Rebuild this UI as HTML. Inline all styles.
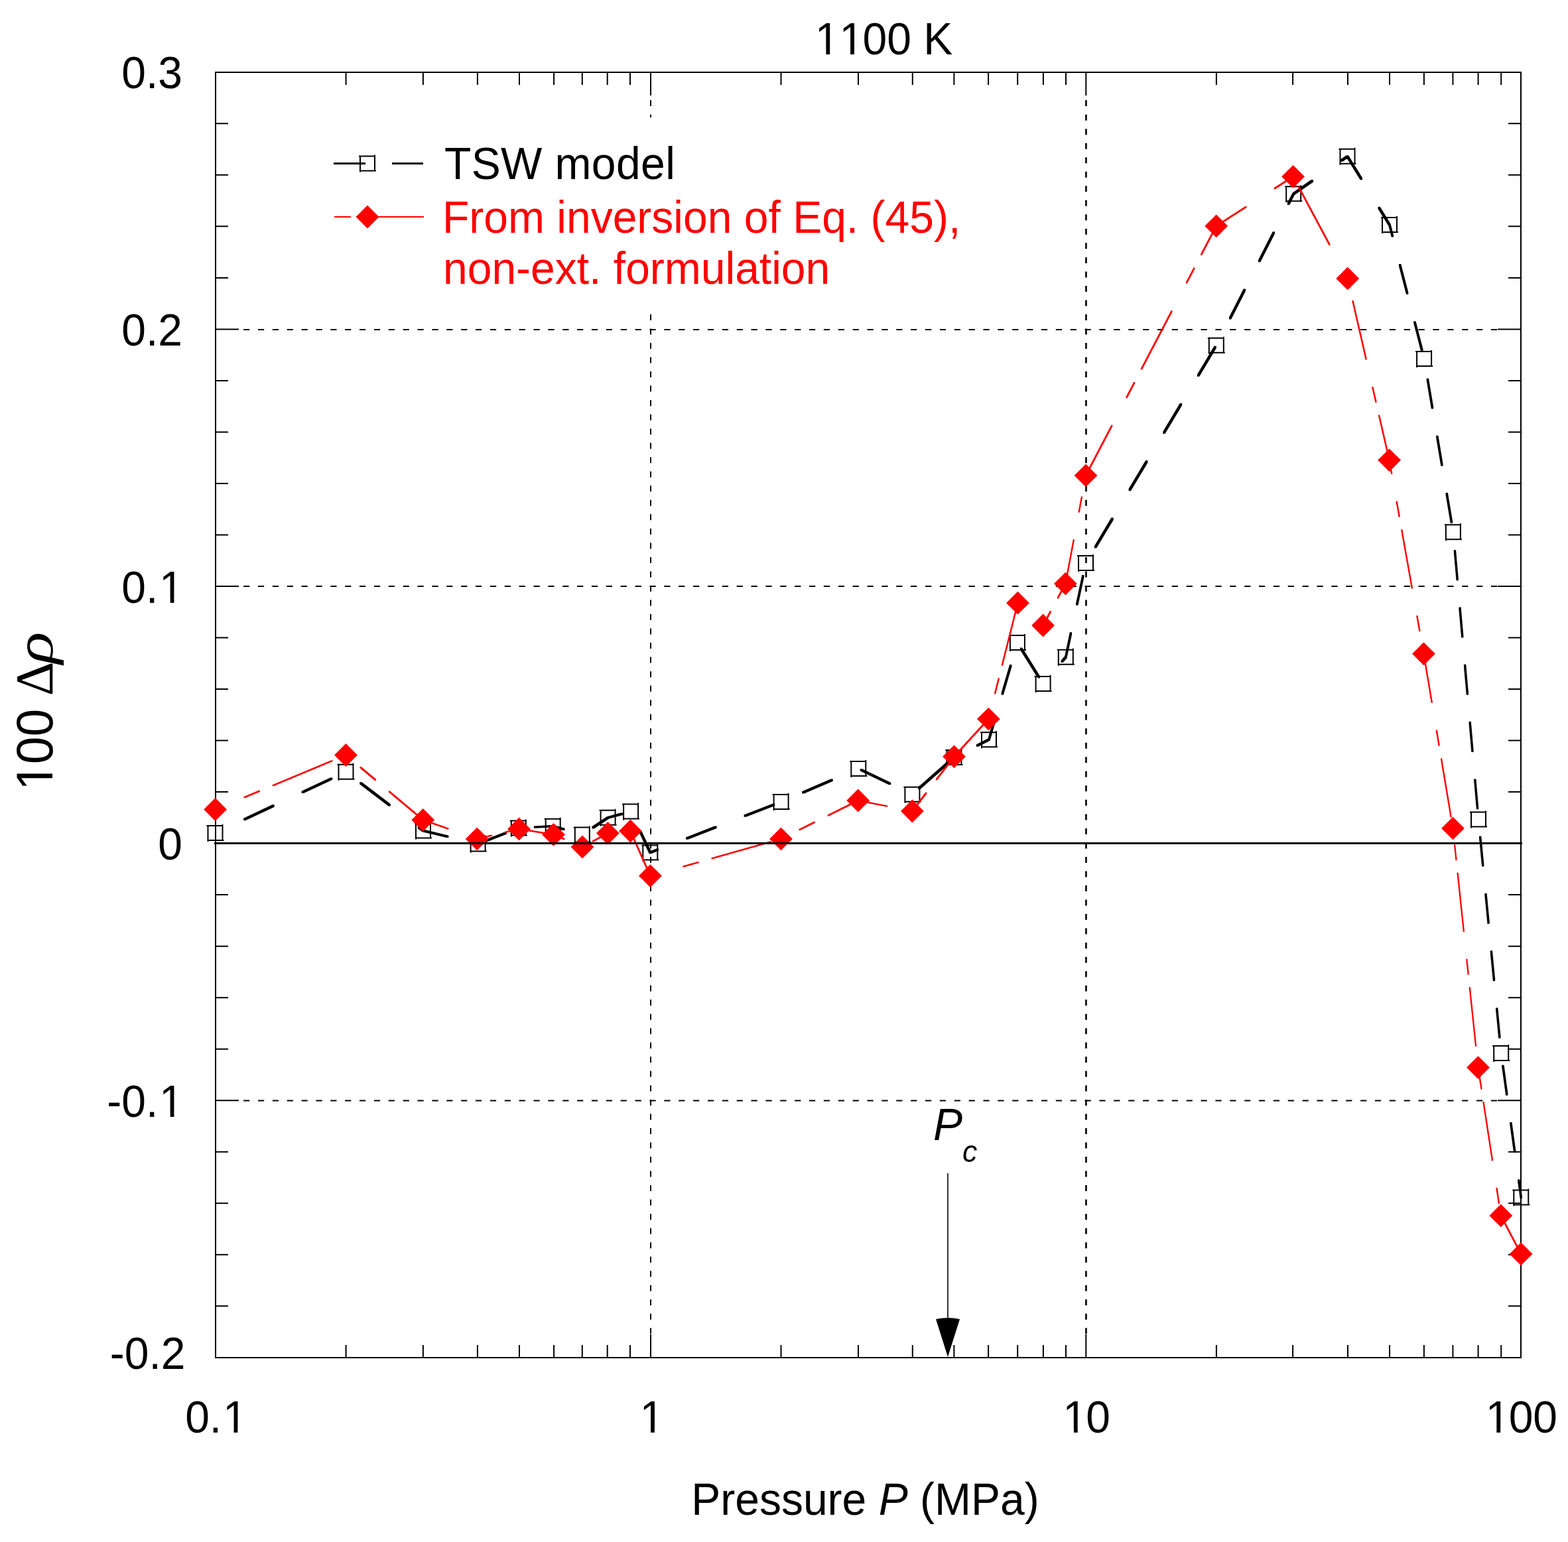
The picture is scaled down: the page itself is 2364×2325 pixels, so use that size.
<!DOCTYPE html>
<html><head><meta charset="utf-8"><title>1100 K</title>
<style>html,body{margin:0;padding:0;background:#fff;}svg{display:block;}text{font-family:"Liberation Sans",Arial,sans-serif;font-kerning:none;}</style>
</head><body>
<svg xmlns="http://www.w3.org/2000/svg" width="2364" height="2325" viewBox="0 0 2364 2325">
<rect width="2364" height="2325" fill="#fff"/>
<path d="M367.1 497H2258 M367.1 884H2258 M367.1 1659.5H2258" stroke="#000" stroke-width="2" stroke-dasharray="9.2 12.67" fill="none"/>
<path d="M981 151.1V2012" stroke="#000" stroke-width="2" stroke-dasharray="9 12.526" fill="none"/>
<path d="M1637.45 151.1V2012" stroke="#000" stroke-width="2.6" stroke-dasharray="9 12.526" fill="none"/>
<path d="M521.6 2047V2028 M521.6 109V128 M637.9 2047V2028 M637.9 109V128 M719.9 2047V2028 M719.9 109V128 M783 2047V2028 M783 109V128 M835.1 2047V2028 M835.1 109V128 M877.8 2047V2028 M877.8 109V128 M915.7 2047V2028 M915.7 109V128 M950 2047V2028 M950 109V128 M1177.5 2047V2028 M1177.5 109V128 M1294 2047V2028 M1294 109V128 M1375.8 2047V2028 M1375.8 109V128 M1438.4 2047V2028 M1438.4 109V128 M1490.1 2047V2028 M1490.1 109V128 M1534.2 2047V2028 M1534.2 109V128 M1572.9 2047V2028 M1572.9 109V128 M1607 2047V2028 M1607 109V128 M1833.9 2047V2028 M1833.9 109V128 M1949.1 2047V2028 M1949.1 109V128 M2032 2047V2028 M2032 109V128 M2095 2047V2028 M2095 109V128 M2146.9 2047V2028 M2146.9 109V128 M2190.4 2047V2028 M2190.4 109V128 M2228.6 2047V2028 M2228.6 109V128 M2263.2 2047V2028 M2263.2 109V128 M981 2047V2012 M981 109V144 M1637.3 2047V2012 M1637.3 109V144 M325 1969.28H344 M2293 1969.28H2274 M325 1891.76H344 M2293 1891.76H2274 M325 1814.24H344 M2293 1814.24H2274 M325 1736.72H344 M2293 1736.72H2274 M325 1659.2H360 M2293 1659.2H2258 M325 1581.68H344 M2293 1581.68H2274 M325 1504.16H344 M2293 1504.16H2274 M325 1426.64H344 M2293 1426.64H2274 M325 1349.12H344 M2293 1349.12H2274 M325 1271.5H360 M2293 1271.5H2258 M325 1194.08H344 M2293 1194.08H2274 M325 1116.56H344 M2293 1116.56H2274 M325 1039.04H344 M2293 1039.04H2274 M325 961.52H344 M2293 961.52H2274 M325 884H360 M2293 884H2258 M325 806.48H344 M2293 806.48H2274 M325 728.96H344 M2293 728.96H2274 M325 651.44H344 M2293 651.44H2274 M325 573.92H344 M2293 573.92H2274 M325 496.4H360 M2293 496.4H2258 M325 418.88H344 M2293 418.88H2274 M325 341.36H344 M2293 341.36H2274 M325 263.84H344 M2293 263.84H2274 M325 186.32H344 M2293 186.32H2274" stroke="#000" stroke-width="2" fill="none"/>
<rect x="325" y="109" width="1968" height="1938" stroke="#000" stroke-width="2" fill="none"/>
<rect x="495" y="177" width="960" height="290" fill="#fff"/>
<path d="M367.13 1233.63L410.41 1213.37L413.71 1213.37L413.71 1216.67L370.43 1236.93L367.13 1236.93ZM454.69 1192.65L497.97 1172.39L501.27 1172.39L501.27 1175.69L457.99 1195.95L454.69 1195.95ZM542.25 1179.21L545.55 1179.21L588.84 1212.16L588.84 1215.46L585.54 1215.46L542.25 1182.51ZM629.82 1245.87L633.12 1245.87L639.65 1250.85L639.65 1254.15L636.35 1254.15L629.82 1249.17ZM636.35 1250.85L639.65 1250.85L676.4 1259.7L676.4 1263L673.1 1263L636.35 1254.15ZM717.38 1270.37L720.68 1270.37L722.25 1270.75L722.25 1274.05L718.95 1274.05L717.38 1273.67ZM718.95 1270.75L760.66 1254.53L763.96 1254.53L763.96 1257.83L722.25 1274.05L718.95 1274.05ZM804.94 1245.56L832.05 1244.05L835.35 1244.05L835.35 1247.35L808.24 1248.86L804.94 1248.86ZM832.05 1244.05L835.35 1244.05L851.52 1248.78L851.52 1252.08L848.22 1252.08L832.05 1247.35ZM892.5 1246.08L914.95 1231.15L918.25 1231.15L918.25 1234.45L895.8 1249.38L892.5 1249.38ZM914.95 1231.15L935.79 1225.59L939.09 1225.59L939.09 1228.89L918.25 1234.45L914.95 1234.45ZM963.68 1252.11L966.98 1252.11L981.95 1283.85L981.95 1287.15L978.65 1287.15L963.68 1255.41ZM978.65 1283.85L989.72 1279.56L993.02 1279.56L993.02 1282.86L981.95 1287.15L978.65 1287.15ZM1034 1262.39L1077.29 1245.61L1080.59 1245.61L1080.59 1248.91L1037.3 1265.69L1034 1265.69ZM1121.56 1228.44L1164.85 1211.65L1168.15 1211.65L1168.15 1214.95L1124.86 1231.74L1121.56 1231.74ZM1209.13 1193.14L1252.41 1174.59L1255.71 1174.59L1255.71 1177.89L1212.43 1196.44L1209.13 1196.44ZM1296.69 1159.28L1299.99 1159.28L1343.27 1179.93L1343.27 1183.23L1339.97 1183.23L1296.69 1162.58ZM1384.25 1186.77L1427.53 1148.5L1430.83 1148.5L1430.83 1151.8L1387.55 1190.07L1384.25 1190.07ZM1471.81 1122.49L1489.35 1113.55L1492.65 1113.55L1492.65 1116.85L1475.11 1125.79L1471.81 1125.79ZM1489.35 1113.55L1496.8 1088.18L1500.1 1088.18L1500.1 1091.48L1492.65 1116.85L1489.35 1116.85ZM1509.61 1044.55L1522.13 1001.91L1525.43 1001.91L1525.43 1005.21L1512.91 1047.85L1509.61 1047.85ZM1537.98 976.62L1541.28 976.62L1567.95 1019.27L1567.95 1022.57L1564.65 1022.57L1537.98 979.92ZM1599.49 995.81L1605.15 989.15L1608.45 989.15L1608.45 992.45L1602.79 999.11L1599.49 999.11ZM1605.15 989.15L1612.82 953.16L1616.12 953.16L1616.12 956.46L1608.45 992.45L1605.15 992.45ZM1622.12 909.53L1631.21 866.88L1634.51 866.88L1634.51 870.18L1625.42 912.83L1622.12 912.83ZM1649.85 823.26L1675.41 780.61L1678.71 780.61L1678.71 783.91L1653.15 826.56L1649.85 826.56ZM1701.55 736.98L1727.11 694.33L1730.41 694.33L1730.41 697.63L1704.85 740.28L1701.55 740.28ZM1753.25 650.71L1778.81 608.06L1782.11 608.06L1782.11 611.36L1756.55 654.01L1753.25 654.01ZM1804.95 564.43L1830.51 521.79L1833.81 521.79L1833.81 525.09L1808.25 567.73L1804.95 567.73ZM1852.99 478.16L1874.72 435.51L1878.02 435.51L1878.02 438.81L1856.29 481.46L1852.99 481.46ZM1896.96 391.88L1918.69 349.24L1921.99 349.24L1921.99 352.54L1900.26 395.18L1896.96 395.18ZM1940.93 305.61L1948.55 290.65L1951.85 290.65L1951.85 293.95L1944.23 308.91L1940.93 308.91ZM1948.55 290.65L1976.65 271.12L1979.95 271.12L1979.95 274.42L1951.85 293.95L1948.55 293.95ZM2020.93 240.35L2029.85 234.15L2033.15 234.15L2033.15 237.45L2024.23 243.65L2020.93 243.65ZM2029.85 234.15L2033.15 234.15L2053.96 268.01L2053.96 271.31L2050.66 271.31L2029.85 237.45ZM2077.48 311.64L2080.78 311.64L2096.65 337.45L2096.65 340.75L2093.35 340.75L2077.48 314.94ZM2093.35 337.45L2096.65 337.45L2101 354.28L2101 357.58L2097.7 357.58L2093.35 340.75ZM2108.96 397.91L2112.26 397.91L2123.27 440.56L2123.27 443.86L2119.97 443.86L2108.96 401.21ZM2131.23 484.18L2134.53 484.18L2145.54 526.83L2145.54 530.13L2142.24 530.13L2131.23 487.48ZM2150.68 570.46L2153.98 570.46L2161.13 613.11L2161.13 616.41L2157.83 616.41L2150.68 573.76ZM2165.14 656.73L2168.44 656.73L2175.58 699.38L2175.58 702.68L2172.28 702.68L2165.14 660.03ZM2179.59 743.01L2182.89 743.01L2190.04 785.65L2190.04 788.95L2186.74 788.95L2179.59 746.31ZM2191.77 829.28L2195.07 829.28L2198.82 871.93L2198.82 875.23L2195.52 875.23L2191.77 832.58ZM2199.36 915.56L2202.66 915.56L2206.41 958.2L2206.41 961.5L2203.11 961.5L2199.36 918.86ZM2206.95 1001.83L2210.25 1001.83L2214 1044.48L2214 1047.78L2210.7 1047.78L2206.95 1005.13ZM2214.54 1088.11L2217.84 1088.11L2221.59 1130.75L2221.59 1134.05L2218.29 1134.05L2214.54 1091.41ZM2222.13 1174.38L2225.43 1174.38L2229.18 1217.03L2229.18 1220.33L2225.88 1220.33L2222.13 1177.68ZM2229.96 1260.65L2233.26 1260.65L2237.4 1303.3L2237.4 1306.6L2234.1 1306.6L2229.96 1263.95ZM2238.33 1346.93L2241.63 1346.93L2245.76 1389.58L2245.76 1392.88L2242.46 1392.88L2238.33 1350.23ZM2246.7 1433.2L2250 1433.2L2254.13 1475.85L2254.13 1479.15L2250.83 1479.15L2246.7 1436.5ZM2255.06 1519.48L2258.36 1519.48L2262.5 1562.13L2262.5 1565.43L2259.2 1565.43L2255.06 1522.78ZM2264.23 1605.75L2267.53 1605.75L2273.43 1648.4L2273.43 1651.7L2270.13 1651.7L2264.23 1609.05ZM2276.17 1692.03L2279.47 1692.03L2285.37 1734.67L2285.37 1737.97L2282.07 1737.97L2276.17 1695.33ZM2288.1 1778.3L2291.4 1778.3L2294.95 1803.95L2294.95 1807.25L2291.65 1807.25L2288.1 1781.6Z" fill="#000"/>
<path d="M311.5 1245H335.5 M335.5 1243V1267 M313.5 1267H337.5 M313.5 1245V1269 M508.5 1152.8H532.5 M532.5 1150.8V1174.8 M510.5 1174.8H534.5 M510.5 1152.8V1176.8 M625 1241.5H649 M649 1239.5V1263.5 M627 1263.5H651 M627 1241.5V1265.5 M707.6 1261.4H731.6 M731.6 1259.4V1283.4 M709.6 1283.4H733.6 M709.6 1261.4V1285.4 M768.8 1237.6H792.8 M792.8 1235.6V1259.6 M770.8 1259.6H794.8 M770.8 1237.6V1261.6 M820.7 1234.7H844.7 M844.7 1232.7V1256.7 M822.7 1256.7H846.7 M822.7 1234.7V1258.7 M864.8 1247.6H888.8 M888.8 1245.6V1269.6 M866.8 1269.6H890.8 M866.8 1247.6V1271.6 M903.6 1221.8H927.6 M927.6 1219.8V1243.8 M905.6 1243.8H929.6 M905.6 1221.8V1245.8 M938.1 1212.6H962.1 M962.1 1210.6V1234.6 M940.1 1234.6H964.1 M940.1 1212.6V1236.6 M967.3 1274.5H991.3 M991.3 1272.5V1296.5 M969.3 1296.5H993.3 M969.3 1274.5V1298.5 M1164.6 1198H1188.6 M1188.6 1196V1220 M1166.6 1220H1190.6 M1166.6 1198V1222 M1281.3 1148H1305.3 M1305.3 1146V1170 M1283.3 1170H1307.3 M1283.3 1148V1172 M1362.4 1186.7H1386.4 M1386.4 1184.7V1208.7 M1364.4 1208.7H1388.4 M1364.4 1186.7V1210.7 M1425.4 1131H1449.4 M1449.4 1129V1153 M1427.4 1153H1451.4 M1427.4 1131V1155 M1478 1104.2H1502 M1502 1102.2V1126.2 M1480 1126.2H1504 M1480 1104.2V1128.2 M1520.9 958.1H1544.9 M1544.9 956.1V980.1 M1522.9 980.1H1546.9 M1522.9 958.1V982.1 M1559.6 1020H1583.6 M1583.6 1018V1042 M1561.6 1042H1585.6 M1561.6 1020V1044 M1593.8 979.8H1617.8 M1617.8 977.8V1001.8 M1595.8 1001.8H1619.8 M1595.8 979.8V1003.8 M1624 838.1H1648 M1648 836.1V860.1 M1626 860.1H1650 M1626 838.1V862.1 M1820.8 509.7H1844.8 M1844.8 507.7V531.7 M1822.8 531.7H1846.8 M1822.8 509.7V533.7 M1937.2 281.3H1961.2 M1961.2 279.3V303.3 M1939.2 303.3H1963.2 M1939.2 281.3V305.3 M2018.5 224.8H2042.5 M2042.5 222.8V246.8 M2020.5 246.8H2044.5 M2020.5 224.8V248.8 M2082 328.1H2106 M2106 326.1V350.1 M2084 350.1H2108 M2084 328.1V352.1 M2134.1 529.9H2158.1 M2158.1 527.9V551.9 M2136.1 551.9H2160.1 M2136.1 529.9V553.9 M2177.9 791.3H2201.9 M2201.9 789.3V813.3 M2179.9 813.3H2203.9 M2179.9 791.3V815.3 M2216 1224.4H2240 M2240 1222.4V1246.4 M2218 1246.4H2242 M2218 1224.4V1248.4 M2250.2 1577H2274.2 M2274.2 1575V1599 M2252.2 1599H2276.2 M2252.2 1577V1601 M2280.3 1794.6H2304.3 M2304.3 1792.6V1816.6 M2282.3 1816.6H2306.3 M2282.3 1794.6V1818.6" fill="none" stroke="#000" stroke-width="2"/>
<path d="M323.55 1219.45L324.15 1219.2L326.25 1219.2L326.25 1221.3L325.65 1221.55L323.55 1221.55ZM367.43 1201.18L389.82 1191.85L391.92 1191.85L391.92 1193.95L369.53 1203.28L367.43 1203.28ZM410.71 1183.15L499.27 1146.27L501.37 1146.27L501.37 1148.37L412.81 1185.25L410.71 1185.25ZM542.55 1156.04L544.65 1156.04L567.04 1174.87L567.04 1176.97L564.94 1176.97L542.55 1158.14ZM585.84 1192.44L587.94 1192.44L638.85 1235.25L638.85 1237.35L636.75 1237.35L585.84 1194.54ZM636.75 1235.25L638.85 1235.25L676.5 1248.48L676.5 1250.58L674.4 1250.58L636.75 1237.35ZM717.68 1263.68L719.78 1263.68L720.25 1263.85L720.25 1265.95L718.15 1265.95L717.68 1265.78ZM718.15 1263.85L740.07 1258.66L742.17 1258.66L742.17 1260.76L720.25 1265.95L718.15 1265.95ZM760.96 1253.7L781.45 1248.85L783.55 1248.85L783.55 1250.95L763.06 1255.8L760.96 1255.8ZM781.45 1248.85L783.55 1248.85L835.65 1257.35L835.65 1259.45L833.55 1259.45L781.45 1250.95ZM833.55 1257.35L835.65 1257.35L851.62 1264.19L851.62 1266.29L849.52 1266.29L833.55 1259.45ZM892.8 1267.4L915.19 1255.34L917.29 1255.34L917.29 1257.44L894.9 1269.5L892.8 1269.5ZM936.09 1253.24L949.45 1251.95L951.55 1251.95L951.55 1254.05L938.19 1255.34L936.09 1255.34ZM949.45 1251.95L951.55 1251.95L981.45 1319.55L981.45 1321.65L979.35 1321.65L949.45 1254.05ZM979.35 1319.55L985.94 1317.69L988.04 1317.69L988.04 1319.79L981.45 1321.65L979.35 1321.65ZM1029.22 1305.46L1051.61 1299.13L1053.71 1299.13L1053.71 1301.23L1031.32 1307.56L1029.22 1307.56ZM1072.5 1293.23L1161.06 1268.2L1163.16 1268.2L1163.16 1270.3L1074.6 1295.33L1072.5 1295.33ZM1204.34 1249.95L1226.73 1238.8L1228.83 1238.8L1228.83 1240.9L1206.44 1252.05L1204.34 1252.05ZM1247.63 1228.38L1292.65 1205.95L1294.75 1205.95L1294.75 1208.05L1249.73 1230.48L1247.63 1230.48ZM1292.65 1205.95L1294.75 1205.95L1338.28 1214.48L1338.28 1216.58L1336.18 1216.58L1292.65 1208.05ZM1378.22 1216.91L1395.15 1194.85L1397.25 1194.85L1397.25 1196.95L1380.32 1219.01L1378.22 1219.01ZM1410.96 1174.26L1437.45 1139.75L1439.55 1139.75L1439.55 1141.85L1413.06 1176.36L1410.96 1176.36ZM1437.45 1139.75L1485.73 1087.01L1487.83 1087.01L1487.83 1089.11L1439.55 1141.85L1437.45 1141.85ZM1499.11 1044.36L1504.67 1022.3L1506.77 1022.3L1506.77 1024.4L1501.21 1046.46L1499.11 1046.46ZM1509.86 1001.71L1531.86 914.46L1533.96 914.46L1533.96 916.56L1511.96 1003.81L1509.86 1003.81ZM1570.33 940.87L1572.43 940.87L1573.65 941.95L1573.65 944.05L1571.55 944.05L1570.33 942.97ZM1571.55 941.95L1582.76 921.09L1584.86 921.09L1584.86 923.19L1573.65 944.05L1571.55 944.05ZM1593.82 900.5L1605.35 879.05L1607.45 879.05L1607.45 881.15L1595.92 902.6L1593.82 902.6ZM1605.35 879.05L1617.69 813.25L1619.79 813.25L1619.79 815.35L1607.45 881.15L1605.35 881.15ZM1625.68 770.6L1629.82 748.54L1631.92 748.54L1631.92 750.64L1627.78 772.7L1625.68 772.7ZM1633.68 727.95L1635.95 715.85L1638.05 715.85L1638.05 717.95L1635.78 730.05L1633.68 730.05ZM1635.95 715.85L1675.25 640.7L1677.35 640.7L1677.35 642.8L1638.05 717.95L1635.95 717.95ZM1697.56 598.05L1709.1 575.99L1711.2 575.99L1711.2 578.09L1699.66 600.15L1697.56 600.15ZM1719.86 555.4L1765.5 468.15L1767.6 468.15L1767.6 470.25L1721.96 557.5L1719.86 557.5ZM1787.8 425.5L1799.34 403.44L1801.44 403.44L1801.44 405.54L1789.9 427.6L1787.8 427.6ZM1810.11 382.85L1832.65 339.75L1834.75 339.75L1834.75 341.85L1812.21 384.95L1810.11 384.95ZM1832.65 339.75L1877.46 310.95L1879.56 310.95L1879.56 313.05L1834.75 341.85L1832.65 341.85ZM1920.74 283.12L1943.13 268.73L1945.23 268.73L1945.23 270.83L1922.84 285.22L1920.74 285.22ZM1956.7 280.5L1958.8 280.5L2005.44 367.75L2005.44 369.85L2003.34 369.85L1956.7 282.6ZM2026.13 410.4L2028.23 410.4L2032.75 418.85L2032.75 420.95L2030.65 420.95L2026.13 412.5ZM2030.65 418.85L2032.75 418.85L2035.88 432.46L2035.88 434.56L2033.78 434.56L2030.65 420.95ZM2038.5 453.05L2040.6 453.05L2060.64 540.3L2060.64 542.4L2058.54 542.4L2038.5 455.15ZM2068.33 582.95L2070.43 582.95L2075.5 605.01L2075.5 607.11L2073.4 607.11L2068.33 585.05ZM2078.13 625.6L2080.23 625.6L2095.65 692.75L2095.65 694.85L2093.55 694.85L2078.13 627.7ZM2093.55 692.75L2095.65 692.75L2099.22 712.85L2099.22 714.95L2097.12 714.95L2093.55 694.85ZM2104.7 755.5L2106.8 755.5L2110.72 777.56L2110.72 779.66L2108.62 779.66L2104.7 757.6ZM2112.28 798.15L2114.38 798.15L2129.89 885.4L2129.89 887.5L2127.79 887.5L2112.28 800.25ZM2135.37 928.05L2137.47 928.05L2141.39 950.11L2141.39 952.21L2139.29 952.21L2135.37 930.15ZM2142.95 970.69L2145.05 970.69L2147.55 984.75L2147.55 986.85L2145.45 986.85L2142.95 972.79ZM2145.45 984.75L2147.55 984.75L2159.79 1057.95L2159.79 1060.05L2157.69 1060.05L2145.45 986.85ZM2164.82 1100.6L2166.92 1100.6L2170.61 1122.66L2170.61 1124.76L2168.51 1124.76L2164.82 1102.7ZM2171.96 1143.24L2174.06 1143.24L2188.65 1230.5L2188.65 1232.6L2186.55 1232.6L2171.96 1145.34ZM2192.11 1273.15L2194.21 1273.15L2196.54 1295.2L2196.54 1297.3L2194.44 1297.3L2192.11 1275.25ZM2196.61 1315.79L2198.71 1315.79L2207.9 1403.05L2207.9 1405.15L2205.8 1405.15L2196.61 1317.89ZM2210.29 1445.69L2212.39 1445.69L2214.72 1467.75L2214.72 1469.85L2212.62 1469.85L2210.29 1447.79ZM2214.79 1488.34L2216.89 1488.34L2226.08 1575.6L2226.08 1577.7L2223.98 1577.7L2214.79 1490.44ZM2228.94 1618.24L2231.04 1618.24L2234.43 1640.3L2234.43 1642.4L2232.33 1642.4L2228.94 1620.34ZM2235.49 1660.89L2237.59 1660.89L2250.99 1748.15L2250.99 1750.25L2248.89 1750.25L2235.49 1662.99ZM2255.44 1790.79L2257.54 1790.79L2260.93 1812.85L2260.93 1814.95L2258.83 1814.95L2255.44 1792.89ZM2262.58 1833.44L2264.68 1833.44L2294.15 1889.65L2294.15 1891.75L2292.05 1891.75L2262.58 1835.54Z" fill="#f00"/>
<path d="M324.6 1203.1L342 1220.5L324.6 1237.9L307.2 1220.5Z M521.5 1121.1L538.9 1138.5L521.5 1155.9L504.1 1138.5Z M637.8 1218.9L655.2 1236.3L637.8 1253.7L620.4 1236.3Z M719.2 1247.5L736.6 1264.9L719.2 1282.3L701.8 1264.9Z M782.5 1232.5L799.9 1249.9L782.5 1267.3L765.1 1249.9Z M834.6 1241L852 1258.4L834.6 1275.8L817.2 1258.4Z M878 1259.6L895.4 1277L878 1294.4L860.6 1277Z M916.4 1238.9L933.8 1256.3L916.4 1273.7L899 1256.3Z M950.5 1235.6L967.9 1253L950.5 1270.4L933.1 1253Z M980.4 1303.2L997.8 1320.6L980.4 1338L963 1320.6Z M1177.5 1247.5L1194.9 1264.9L1177.5 1282.3L1160.1 1264.9Z M1293.7 1189.6L1311.1 1207L1293.7 1224.4L1276.3 1207Z M1375.4 1205.6L1392.8 1223L1375.4 1240.4L1358 1223Z M1438.5 1123.4L1455.9 1140.8L1438.5 1158.2L1421.1 1140.8Z M1490.4 1066.7L1507.8 1084.1L1490.4 1101.5L1473 1084.1Z M1534.5 891.8L1551.9 909.2L1534.5 926.6L1517.1 909.2Z M1572.6 925.6L1590 943L1572.6 960.4L1555.2 943Z M1606.4 862.7L1623.8 880.1L1606.4 897.5L1589 880.1Z M1637 699.5L1654.4 716.9L1637 734.3L1619.6 716.9Z M1833.7 323.4L1851.1 340.8L1833.7 358.2L1816.3 340.8Z M1949.6 248.9L1967 266.3L1949.6 283.7L1932.2 266.3Z M2031.7 402.5L2049.1 419.9L2031.7 437.3L2014.3 419.9Z M2094.6 676.4L2112 693.8L2094.6 711.2L2077.2 693.8Z M2146.5 968.4L2163.9 985.8L2146.5 1003.2L2129.1 985.8Z M2190.5 1231.5L2207.9 1248.9L2190.5 1266.3L2173.1 1248.9Z M2228.5 1592.2L2245.9 1609.6L2228.5 1627L2211.1 1609.6Z M2262.8 1815.5L2280.2 1832.9L2262.8 1850.3L2245.4 1832.9Z M2293.1 1873.3L2310.5 1890.7L2293.1 1908.1L2275.7 1890.7Z" fill="#f00"/>
<path d="M323 1271.5H2295" stroke="#000" stroke-width="3"/>
<path d="M503 246.5H551M591 246.5H638" stroke="#000" stroke-width="3"/>
<path d="M541 235.5H565 M565 233.5V257.5 M543 257.5H567 M543 235.5V259.5" fill="none" stroke="#000" stroke-width="2"/>
<path d="M504 327H529M537 327H639" stroke="#f00" stroke-width="2"/>
<path d="M554 309.6L571.4 327L554 344.4L536.6 327Z" fill="#f00"/>
<text transform="translate(670 270.2) scale(0.9637 1)" x="0" font-size="68.49" letter-spacing="0.4">TSW model</text>
<text transform="translate(667 351) scale(0.9637 1)" x="0" font-size="68.49" fill="#f00">From inversion of Eq. (45),</text>
<text transform="translate(668 428.3) scale(0.9637 1)" x="0" font-size="68.49" fill="#f00">non-ext. formulation</text>
<text transform="translate(275 133.3) scale(0.9637 1)" x="-95.21" font-size="68.49">0.3</text>
<text transform="translate(275 520.9) scale(0.9637 1)" x="-95.21" font-size="68.49">0.2</text>
<text transform="translate(275 908.5) scale(0.9637 1)" x="-95.21" font-size="68.49" clip-path="url(#c0)">0.<tspan dx="1.84">1</tspan></text>
<text transform="translate(275 1296.1) scale(0.9637 1)" x="-38.09" font-size="68.49">0</text>
<text transform="translate(275 1683.7) scale(0.9637 1)" x="-118.01" font-size="68.49" clip-path="url(#c1)">-0.<tspan dx="1.84">1</tspan></text>
<text transform="translate(279.5 2063.5) scale(0.9637 1)" x="-118.01" font-size="68.49">-0.2</text>
<text transform="translate(325 2160) scale(0.9637 1)" x="-47.6" font-size="68.49" clip-path="url(#c2)">0.<tspan dx="1.84">1</tspan></text>
<text transform="translate(981 2160) scale(0.9637 1)" x="-19.04" font-size="68.49" clip-path="url(#c3)"><tspan dx="1.84">1</tspan></text>
<text transform="translate(1637.3 2160) scale(0.9637 1)" x="-38.09" font-size="68.49" clip-path="url(#c4)"><tspan dx="1.84">1</tspan><tspan dx="-1.84">0</tspan></text>
<text transform="translate(2293 2160) scale(0.9637 1)" x="-57.13" font-size="68.49" clip-path="url(#c5)"><tspan dx="1.84">1</tspan><tspan dx="-1.84">0</tspan>0</text>
<text transform="translate(1227 82) scale(0.9637 1)" x="0" font-size="68.49" clip-path="url(#c6)"><tspan dx="1.84">1</tspan><tspan>1</tspan><tspan dx="-1.84">0</tspan>0 K</text>
<text transform="translate(1042.2 2284) scale(0.9637 1)" x="0" font-size="68.49">Pressure <tspan font-style="italic">P</tspan> (MPa)</text>
<g transform="translate(79.3 1194) rotate(-90)">
<text transform="scale(0.9637 1)" font-size="77.83" clip-path="url(#c7)"><tspan dx="2.09">1</tspan><tspan dx="-2.09">0</tspan>0</text>
<text x="144.7" y="0" style="font-family:'Liberation Serif',serif" font-size="80">&#916;</text>
<g transform="translate(193 0) scale(1.26 1)"><text x="0" y="0" style="font-family:'Liberation Serif',serif" font-style="italic" font-size="80">&#961;</text></g>
</g>
<text transform="translate(1407 1719) scale(0.9637 1)" x="0" font-size="68.49" font-style="italic">P</text>
<text transform="translate(1451 1751.6) scale(0.9637 1)" x="0" font-size="46.38" font-style="italic">c</text>
<path d="M1429 1769V1992" stroke="#000" stroke-width="1.6"/>
<path d="M1411 1989Q1429 1985 1447 1989L1429 2046Z" fill="#000"/>
<defs><clipPath id="c0" clipPathUnits="userSpaceOnUse"><path clip-rule="evenodd" d="M-5000 -5000H5000V5000H-5000ZM-32.23 -6.12H-19.03V3H-32.23ZM-12.98 -6.12H-0.3V3H-12.98Z"/></clipPath><clipPath id="c1" clipPathUnits="userSpaceOnUse"><path clip-rule="evenodd" d="M-5000 -5000H5000V5000H-5000ZM-32.23 -6.12H-19.03V3H-32.23ZM-12.98 -6.12H-0.3V3H-12.98Z"/></clipPath><clipPath id="c2" clipPathUnits="userSpaceOnUse"><path clip-rule="evenodd" d="M-5000 -5000H5000V5000H-5000ZM15.37 -6.12H28.58V3H15.37ZM34.63 -6.12H47.3V3H34.63Z"/></clipPath><clipPath id="c3" clipPathUnits="userSpaceOnUse"><path clip-rule="evenodd" d="M-5000 -5000H5000V5000H-5000ZM-13.19 -6.12H0.02V3H-13.19ZM6.07 -6.12H18.74V3H6.07Z"/></clipPath><clipPath id="c4" clipPathUnits="userSpaceOnUse"><path clip-rule="evenodd" d="M-5000 -5000H5000V5000H-5000ZM-32.23 -6.12H-19.03V3H-32.23ZM-12.98 -6.12H-0.3V3H-12.98Z"/></clipPath><clipPath id="c5" clipPathUnits="userSpaceOnUse"><path clip-rule="evenodd" d="M-5000 -5000H5000V5000H-5000ZM-51.28 -6.12H-38.07V3H-51.28ZM-32.02 -6.12H-19.35V3H-32.02Z"/></clipPath><clipPath id="c6" clipPathUnits="userSpaceOnUse"><path clip-rule="evenodd" d="M-5000 -5000H5000V5000H-5000ZM5.86 -6.12H19.06V3H5.86ZM25.11 -6.12H37.78V3H25.11ZM43.95 -6.12H57.15V3H43.95ZM63.2 -6.12H75.87V3H63.2Z"/></clipPath><clipPath id="c7" clipPathUnits="userSpaceOnUse"><path clip-rule="evenodd" d="M-5000 -5000H5000V5000H-5000ZM6.82 -6.81H21.66V3H6.82ZM28.54 -6.81H42.77V3H28.54Z"/></clipPath></defs>
</svg>
</body></html>
